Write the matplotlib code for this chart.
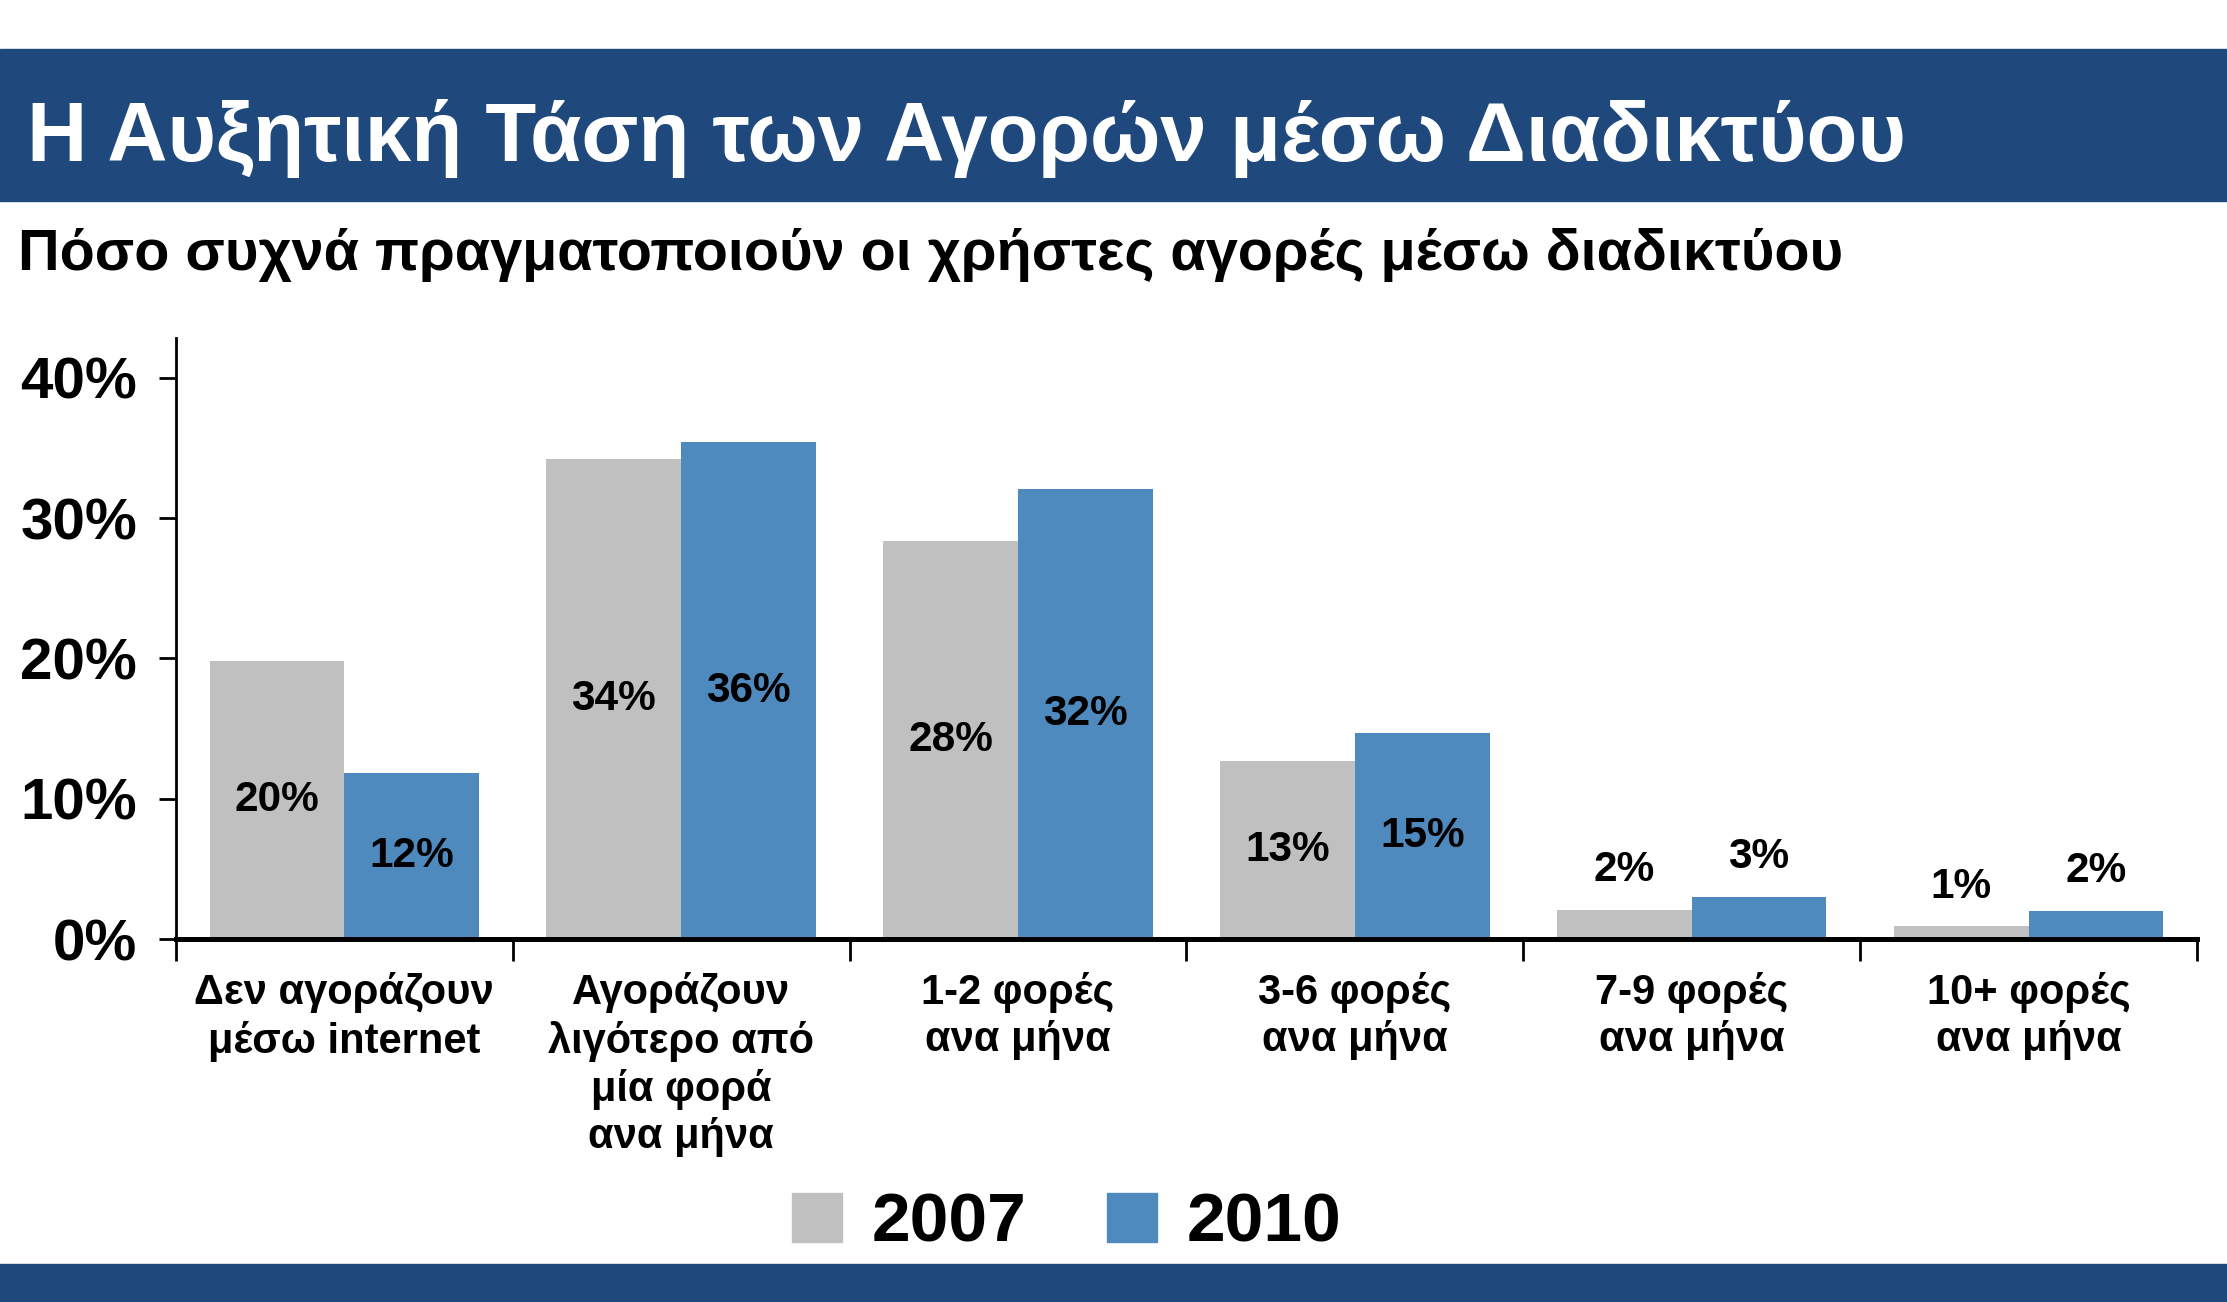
import matplotlib.pyplot as plt
from matplotlib.patches import Rectangle, Patch

plt.rcParams['font.family'] = ['Liberation Sans', 'DejaVu Sans']
plt.rcParams['font.weight'] = 'bold'

# data
categories = [
    "Δεν αγοράζουν\nμέσω internet",
    "Αγοράζουν\nλιγότερο από\nμία φορά\nανα μήνα",
    "1-2 φορές\nανα μήνα",
    "3-6 φορές\nανα μήνα",
    "7-9 φορές\nανα μήνα",
    "10+ φορές\nανα μήνα",
]
years = ["2007", "2010"]
values_2007 = [19.8, 34.2, 28.4, 12.7, 2.1, 0.9]
values_2010 = [11.8, 35.4, 32.1, 14.7, 3.0, 2.0]
labels_2007 = ["20%", "34%", "28%", "13%", "2%", "1%"]
labels_2010 = ["12%", "36%", "32%", "15%", "3%", "2%"]
y_ticks = [0, 10, 20, 30, 40]

banner_blue = '#1F497D'
gray = '#C0C0C0'
blue = '#4E8ABE'

fig = plt.figure(figsize=(22.27, 13.02), dpi=100)

# banners top and bottom
fig.patches.append(Rectangle((0, 0.8456), 1, 0.1167, transform=fig.transFigure,
                             color=banner_blue, zorder=0))
fig.patches.append(Rectangle((0, 0), 1, 0.0292, transform=fig.transFigure,
                             color=banner_blue, zorder=0))

fig.text(0.012, 0.8767, "Η Αυξητική Τάση των Αγορών μέσω Διαδικτύου",
         color='white', fontsize=60, fontweight='bold', va='baseline', ha='left')
fig.text(0.008, 0.7926, "Πόσο συχνά πραγματοποιούν οι χρήστες αγορές μέσω διαδικτύου",
         color='black', fontsize=41.5, fontweight='bold', va='baseline', ha='left')

ax = fig.add_axes([0.0790, 0.2788, 0.9075, 0.4616])
x = list(range(len(categories)))
w = 0.4
ax.bar([i - w / 2 for i in x], values_2007, width=w, color=gray)
ax.bar([i + w / 2 for i in x], values_2010, width=w, color=blue)

for i in x:
    for v, lab, off in ((values_2007[i], labels_2007[i], -w / 2),
                        (values_2010[i], labels_2010[i], w / 2)):
        if v > 8:
            ax.text(i + off, v / 2, lab, ha='center', va='center',
                    fontsize=30.5, fontweight='bold')
        else:
            ax.text(i + off, v + 1.4, lab, ha='center', va='bottom',
                    fontsize=30.5, fontweight='bold')

ax.set_xlim(-0.5, len(categories) - 0.5)
ax.set_ylim(0, 42.85)

for s in ('top', 'right'):
    ax.spines[s].set_visible(False)
ax.spines['left'].set_linewidth(2)
ax.spines['bottom'].set_linewidth(3.6)

ax.set_yticks(y_ticks)
ax.set_yticklabels([f"{t}%" for t in y_ticks], fontsize=42, fontweight='bold')
ax.tick_params(axis='y', length=12, width=2, pad=16)

ax.set_xticks(x)
ax.set_xticklabels(categories, fontsize=30, fontweight='bold', linespacing=1.23)
ax.set_xticks([i - 0.5 for i in range(len(categories) + 1)], minor=True)
ax.tick_params(axis='x', which='major', length=0, pad=24)
ax.tick_params(axis='x', which='minor', length=16, width=2)

handles = [Patch(color=gray), Patch(color=blue)]
fig.legend(handles, years, loc='center', bbox_to_anchor=(0.479, 0.06), ncol=2,
           frameon=False, prop={'size': 50, 'weight': 'bold'},
           handlelength=0.72, handleheight=0.72, handletextpad=0.43,
           columnspacing=1.15)

fig.savefig('out.png', dpi=100)
